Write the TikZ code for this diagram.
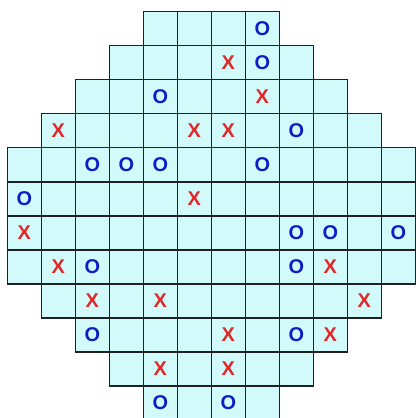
\documentclass[tikz,border=0pt]{standalone}
\usepackage{fontspec}
\setmainfont{Liberation Sans}
\usepackage{xcolor}
\definecolor{cellfill}{HTML}{D2FAFA}
\definecolor{gridline}{HTML}{1E2222}
\definecolor{xred}{HTML}{E02828}
\definecolor{oblue}{HTML}{0A1EC8}
\tikzset{
  cell/.style={draw=gridline, fill=cellfill, line width=0.8pt},
  xmark/.style={text=xred, inner sep=0pt, font=\fontsize{10}{12}\selectfont\bfseries},
  omark/.style={text=oblue, inner sep=0pt, font=\fontsize{10}{12}\selectfont\bfseries}
}
\begin{document}
\begin{tikzpicture}[scale=0.6]
\useasboundingbox (-0.215,0.344) rectangle (12.02,-11.95);
\foreach \r/\a in {0/4,1/3,2/2,3/1,4/0,5/0,6/0,7/0,8/1,9/2,10/3,11/4}{
  \pgfmathtruncatemacro{\b}{11-\a}
  \foreach \c in {\a,...,\b} \draw[cell] (\c,-\r) rectangle ++(1,-1);
}
\foreach \c/\r in {6/1,7/2,1/3,5/3,6/3,5/5,0/6,1/7,9/7,2/8,4/8,10/8,6/9,9/9,4/10,6/10}
  \node[xmark] (x-\c-\r) at (\c+0.5,-\r-0.5) {X};
\foreach \c/\r in {7/0,7/1,4/2,8/3,2/4,3/4,4/4,7/4,0/5,8/6,9/6,11/6,2/7,8/7,2/9,8/9,4/11,6/11}
  \node[omark] (o-\c-\r) at (\c+0.5,-\r-0.5) {O};
\end{tikzpicture}
\end{document}
